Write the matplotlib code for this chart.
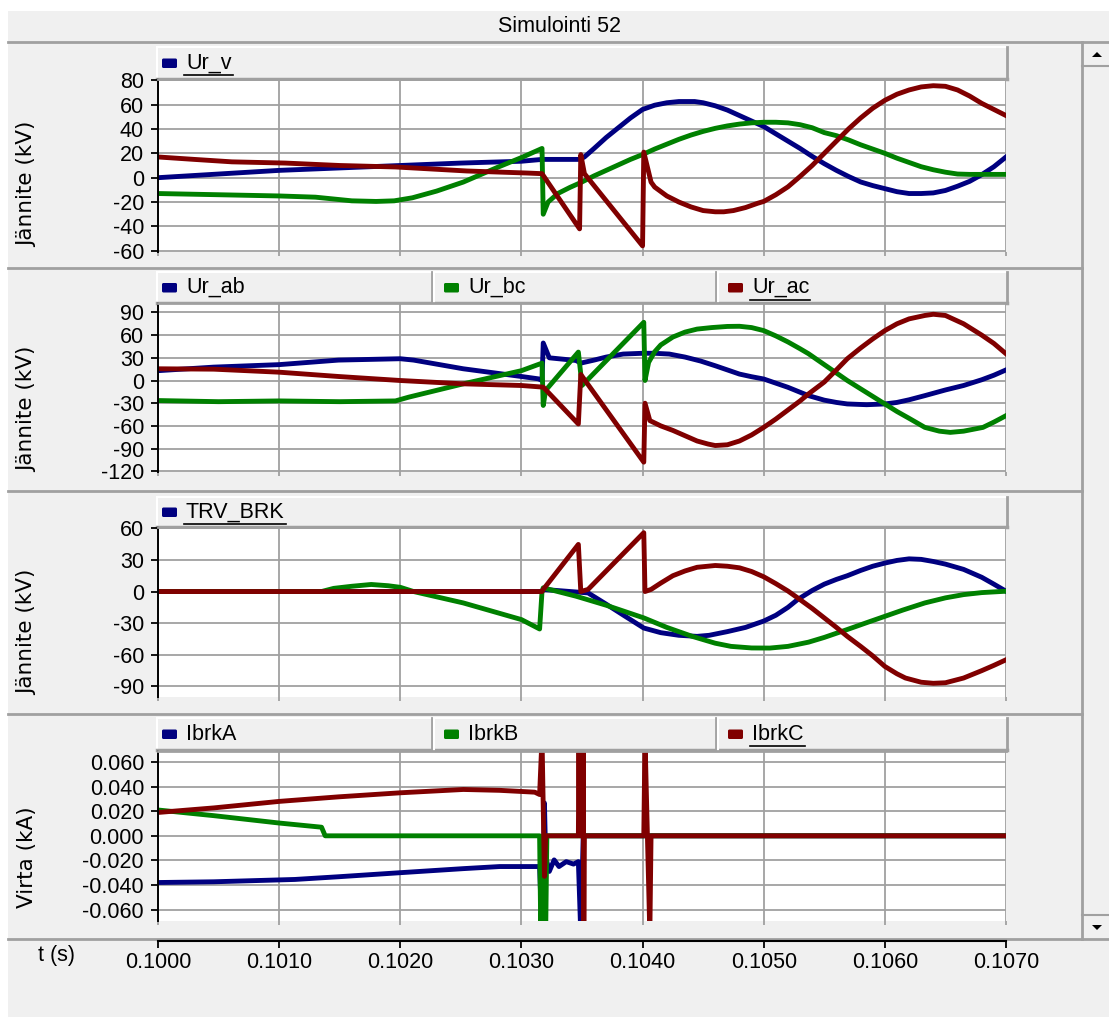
import matplotlib
matplotlib.use("Agg")
import matplotlib.pyplot as plt
from matplotlib.patches import Rectangle, FancyBboxPatch, Polygon
from matplotlib.ticker import FormatStrFormatter

plt.rcParams['font.family'] = ['Liberation Sans', 'DejaVu Sans']
plt.rcParams['axes.unicode_minus'] = False

BLUE = '#000080'
GREEN = '#008000'
RED = '#800000'
GRID = '#a0a0a0'
BG = '#f0f0f0'

# ---- data (time in s) ----
time_ticks = [0.1000, 0.1010, 0.1020, 0.1030, 0.1040, 0.1050, 0.1060, 0.1070]

# panel 1: Ur_v (kV)
v_a_t = [0.10000, 0.10050, 0.10100, 0.10150, 0.10200, 0.10250, 0.10300, 0.10317, 0.10348,
         0.10352, 0.10360, 0.10370, 0.10380, 0.10390, 0.10400, 0.10410, 0.10420, 0.10430,
         0.10443, 0.10450, 0.10460, 0.10470, 0.10480, 0.10490, 0.10500, 0.10510, 0.10520,
         0.10530, 0.10540, 0.10550, 0.10560, 0.10570, 0.10580, 0.10590, 0.10600, 0.10610,
         0.10620, 0.10630, 0.10640, 0.10650, 0.10660, 0.10670, 0.10680, 0.10690, 0.10700]
v_a = [0, 3, 6, 8, 10, 12, 13.5, 15, 15, 17, 24, 33, 41, 49, 56, 59.5, 61.5, 62.5, 62.5,
       61.5, 59, 55.5, 51, 46.5, 42, 36, 30, 24, 17.5, 11.5, 6, 1, -3.5, -6.5, -9, -11.5,
       -13, -13, -12.5, -10.5, -7, -3, 2.5, 9, 17]
v_b_t = [0.10000, 0.10050, 0.10100, 0.10130, 0.10150, 0.10160, 0.10180, 0.10195, 0.10210,
         0.10230, 0.10252, 0.10281, 0.10300, 0.10317, 0.10318, 0.10322, 0.10330, 0.10340,
         0.10349, 0.10360, 0.10370, 0.10380, 0.10390, 0.10400, 0.10410, 0.10420, 0.10430,
         0.10440, 0.10450, 0.10460, 0.10470, 0.10480, 0.10490, 0.10500, 0.10510, 0.10520,
         0.10530, 0.10540, 0.10550, 0.10560, 0.10570, 0.10580, 0.10590, 0.10600, 0.10610,
         0.10620, 0.10630, 0.10640, 0.10650, 0.10660, 0.10670, 0.10700]
v_b = [-13, -14, -15, -16, -18, -19, -19.5, -19, -16.5, -11, -3.6, 8.8, 16.5, 24, -30, -20,
       -13, -8, -4, 1.5, 6, 10.5, 15, 19, 23.5, 27.5, 31.5, 35, 38, 40.5, 42.5, 44, 45, 45.5,
       45.5, 45, 43.5, 41, 37, 34.5, 31, 27, 23.5, 20, 16, 12.5, 9, 6.5, 4.5, 3, 2.7, 2.7]
v_c_t = [0.10000, 0.10030, 0.10061, 0.10105, 0.10150, 0.10196, 0.10255, 0.10305, 0.10317,
         0.10348, 0.10349, 0.10352, 0.10400, 0.10401, 0.10407, 0.10410, 0.10420, 0.10430,
         0.10440, 0.10450, 0.10460, 0.10467, 0.10475, 0.10485, 0.10495, 0.10500, 0.10510,
         0.10520, 0.10530, 0.10540, 0.10550, 0.10560, 0.10570, 0.10580, 0.10590, 0.10600,
         0.10610, 0.10620, 0.10630, 0.10640, 0.10650, 0.10660, 0.10670, 0.10680, 0.10690,
         0.10700]
v_c = [17, 15, 13, 12, 10, 8.8, 5.5, 3.8, 3.3, -42, 19, 3.3, -56, 21, -3.6, -7.7, -15, -20,
       -24, -27, -28, -28, -27, -24.5, -21, -19.5, -14, -7.5, 1, 10, 20, 30, 40, 49, 57,
       63.5, 68.5, 72, 74.5, 75.5, 75, 72, 67, 61, 56, 51]

# panel 2: Ur_ab / Ur_bc / Ur_ac (kV)
ab_t = [0.10000, 0.10046, 0.10100, 0.10149, 0.10200, 0.10211, 0.10252, 0.10300, 0.10314,
        0.10317, 0.10318, 0.10323, 0.10345, 0.10349, 0.10360, 0.10370, 0.10384, 0.10400,
        0.10410, 0.10422, 0.10435, 0.10448, 0.10460, 0.10470, 0.10480, 0.10490, 0.10500,
        0.10510, 0.10520, 0.10530, 0.10537, 0.10550, 0.10560, 0.10569, 0.10585, 0.10600,
        0.10610, 0.10620, 0.10633, 0.10650, 0.10665, 0.10680, 0.10690, 0.10700]
ab = [13, 17.7, 21, 27, 28.8, 27, 15.5, 5.3, 2.2, 0, 49.6, 30, 26.5, 23, 27, 31, 35, 36,
      36, 35, 31, 25.7, 19.5, 14, 8.5, 5, 2, -3.5, -9, -15.5, -20, -26, -29, -31, -32, -31,
      -29, -25.5, -20, -12.5, -6.6, 1, 7, 14]
bc_t = [0.10000, 0.10050, 0.10100, 0.10150, 0.10196, 0.10207, 0.10252, 0.10300, 0.10317,
        0.10318, 0.10320, 0.10347, 0.10350, 0.10401, 0.10402, 0.10405, 0.10410, 0.10415,
        0.10425, 0.10435, 0.10445, 0.10457, 0.10470, 0.10480, 0.10490, 0.10500, 0.10510,
        0.10520, 0.10530, 0.10537, 0.10550, 0.10560, 0.10569, 0.10580, 0.10590, 0.10600,
        0.10610, 0.10620, 0.10633, 0.10645, 0.10654, 0.10665, 0.10681, 0.10690, 0.10700]
bc = [-26.5, -28, -27, -28, -27, -22, -4.4, 13, 23, -33, -13, 37.6, -6.6, 77, 0, 24, 38,
      47, 57.5, 64, 68, 70, 71.5, 71.7, 70, 66, 59, 51, 42, 35.4, 21, 10, 0, -11, -21, -31,
      -41, -50, -62, -67, -68.6, -67, -62, -55, -46.5]
ac_t = [0.10000, 0.10046, 0.10100, 0.10149, 0.10200, 0.10252, 0.10300, 0.10318, 0.10347,
        0.10349, 0.10401, 0.10402, 0.10406, 0.10415, 0.10425, 0.10435, 0.10445, 0.10454,
        0.10460, 0.10470, 0.10480, 0.10490, 0.10500, 0.10510, 0.10520, 0.10530, 0.10537,
        0.10550, 0.10560, 0.10569, 0.10580, 0.10590, 0.10600, 0.10610, 0.10620, 0.10633,
        0.10640, 0.10650, 0.10665, 0.10680, 0.10690, 0.10700]
ac = [15.5, 15, 11, 5.3, 0, -4.4, -6.6, -8.8, -57.5, 8, -108, -30, -53, -60, -66, -73, -80,
      -84, -86, -85, -80, -72, -62, -51, -39, -27, -17.7, -2, 14, 28.8, 43, 55, 66, 75,
      81.5, 86, 87.6, 86, 75, 60, 49, 35.4]

# panel 3: TRV_BRK (kV)
trv_a_t = [0.10000, 0.10317, 0.10318, 0.10355, 0.10370, 0.10385, 0.10401, 0.10415, 0.10430,
           0.10445, 0.10455, 0.10470, 0.10485, 0.10500, 0.10510, 0.10520, 0.10528, 0.10540,
           0.10550, 0.10560, 0.10569, 0.10580, 0.10590, 0.10600, 0.10610, 0.10620, 0.10630,
           0.10640, 0.10650, 0.10665, 0.10680, 0.10690, 0.10700]
trv_a = [0, 0, 2, -1.3, -12, -23, -34.6, -39, -41.5, -42.5, -41.5, -38, -34, -28, -22.5,
         -15, -7.6, 1, 7, 11.5, 15, 20, 24, 27, 29.5, 31, 30.5, 28.5, 26, 21, 13.5, 7, 0.3]
trv_b_t = [0.10000, 0.10135, 0.10145, 0.10160, 0.10176, 0.10190, 0.10200, 0.10211, 0.10252,
           0.10300, 0.10315, 0.10317, 0.10318, 0.10345, 0.10370, 0.10401, 0.10420, 0.10441,
           0.10460, 0.10473, 0.10490, 0.10505, 0.10520, 0.10537, 0.10550, 0.10569, 0.10585,
           0.10600, 0.10615, 0.10633, 0.10650, 0.10665, 0.10680, 0.10700]
trv_b = [0, 0, 3, 5, 6.7, 5.5, 4, 0, -10.8, -26.6, -35.5, 0, 3.5, -4.4, -13, -25, -34, -42.5,
         -49, -52, -53.5, -53.6, -52, -48, -43.5, -36, -29.5, -23.5, -17.5, -10.8, -6, -2.9,
         -1, 0.3]
trv_c_t = [0.10000, 0.10317, 0.10318, 0.10347, 0.10349, 0.10355, 0.10401, 0.10402, 0.10407,
           0.10415, 0.10425, 0.10435, 0.10445, 0.10460, 0.10470, 0.10480, 0.10490, 0.10500,
           0.10510, 0.10520, 0.10528, 0.10540, 0.10550, 0.10560, 0.10569, 0.10580, 0.10590,
           0.10600, 0.10610, 0.10617, 0.10630, 0.10640, 0.10650, 0.10665, 0.10680, 0.10690,
           0.10700]
trv_c = [0, 0, 2, 44.7, 0, 2, 55.8, 0, 2, 8, 15, 19.5, 23, 24.7, 24, 22.5, 19, 14, 7.5, 0.5,
         -6, -16, -25, -34, -42.5, -52, -61, -71, -78, -82, -86, -87, -86.5, -82, -75, -70,
         -64.7]

# panel 4: IbrkA / IbrkB / IbrkC (kA)
ia_t = [0.10000, 0.10046, 0.10113, 0.10149, 0.10200, 0.10252, 0.10282, 0.10315, 0.10317,
        0.10319, 0.10320, 0.10323, 0.10327, 0.10331, 0.10337, 0.10343, 0.10347, 0.10349,
        0.10351, 0.10700]
ia = [-0.038, -0.0374, -0.0355, -0.0333, -0.030, -0.0267, -0.025, -0.025, -0.08, 0.0267,
      -0.017, -0.029, -0.0196, -0.025, -0.021, -0.023, -0.021, -0.08, 0, 0]
ib_t = [0.10000, 0.10046, 0.10100, 0.10135, 0.10138, 0.10315, 0.10316, 0.10318, 0.10320,
        0.10321, 0.10700]
ib = [0.021, 0.0164, 0.0104, 0.007, 0, 0, -0.08, 0, -0.08, 0, 0]
ic_t = [0.10000, 0.10046, 0.10100, 0.10149, 0.10200, 0.10252, 0.10282, 0.10311, 0.10315,
        0.10317, 0.10319, 0.10320, 0.103470, 0.103475, 0.103480, 0.103505, 0.103510,
        0.103515, 0.103520, 0.10401, 0.10402, 0.10404, 0.10406, 0.10407, 0.10700]
ic = [0.019, 0.0227, 0.028, 0.0317, 0.035, 0.0377, 0.037, 0.0355, 0.0336, 0.08, -0.033, 0,
      0, 0.08, 0, 0, 0.08, -0.08, 0, 0, 0.08, 0, -0.08, 0, 0]

p1_ticks = [-60, -40, -20, 0, 20, 40, 60, 80]
p2_ticks = [-120, -90, -60, -30, 0, 30, 60, 90]
p3_ticks = [-90, -60, -30, 0, 30, 60]
p4_ticks = [-0.06, -0.04, -0.02, 0.0, 0.02, 0.04, 0.06]

W, H = 1109, 1017
fig = plt.figure(figsize=(W / 100, H / 100), dpi=100, facecolor=BG)

# background "window" drawn in pixel coordinates
bg = fig.add_axes([0, 0, 1, 1])
bg.set_xlim(0, W)
bg.set_ylim(H, 0)
bg.axis('off')

bg.add_patch(Rectangle((0, 0), W, 11, fc='white', ec='none'))
bg.add_patch(Rectangle((0, 0), 8, H, fc='white', ec='none'))
bg.text(560, 27, 'Simulointi 52', ha='center', va='center', fontsize=15.5)
bg.plot([8, W], [42, 42], color=GRID, lw=2)
for y in [268, 491, 714]:
    bg.plot([8, 1082], [y, y], color=GRID, lw=2)
bg.plot([8, W], [939, 939], color=GRID, lw=2)

# scrollbar
bg.plot([1082, 1082], [42, 939], color=GRID, lw=2)
bg.plot([1082, W], [66, 66], color=GRID, lw=1.5)
bg.plot([1082, W], [915, 915], color=GRID, lw=1.5)
bg.add_patch(Polygon([(1092, 57), (1102, 57), (1097, 52)], fc='black', ec='none'))
bg.add_patch(Polygon([(1092, 925), (1102, 925), (1097, 930)], fc='black', ec='none'))


def box(l, t, r, b):
    return [l / W, 1 - b / H, (r - l) / W, (b - t) / H]


underlined = []


def legend_bar(top, bottom, entries):
    bg.add_patch(Rectangle((157, top), 850, bottom - top, fc=BG, ec='none'))
    bg.plot([157, 1007], [top, top], color='white', lw=1.5)
    bg.plot([157, 157], [top, bottom], color='white', lw=1.5)
    bg.plot([1007, 1007], [top, bottom], color=GRID, lw=2)
    bg.plot([157, 1007], [bottom, bottom], color=GRID, lw=2.5)
    yc = (top + bottom) / 2
    for i, (x0, label, color, ul) in enumerate(entries):
        if i > 0:
            bg.plot([x0 - 7, x0 - 7], [top, bottom], color=GRID, lw=2)
            bg.plot([x0 - 5, x0 - 5], [top, bottom], color='white', lw=1.5)
        bg.add_patch(FancyBboxPatch((x0 + 6.5, yc - 3), 12, 6.5,
                                    boxstyle='round,pad=1.5', fc=color, ec='none'))
        t = bg.text(x0 + 29, yc, label, ha='left', va='center', fontsize=15.5)
        if ul:
            underlined.append((t, yc + 12))


legend_bar(47, 79, [(157, 'Ur_v', BLUE, True)])
legend_bar(272, 303, [(157, 'Ur_ab', BLUE, False), (439, 'Ur_bc', GREEN, False),
                      (723, 'Ur_ac', RED, True)])
legend_bar(497, 527, [(157, 'TRV_BRK', BLUE, True)])
legend_bar(718, 750, [(157, 'IbrkA', BLUE, False), (439, 'IbrkB', GREEN, False),
                      (723, 'IbrkC', RED, True)])

for y, txt in [(184, 'Jännite (kV)'), (409, 'Jännite (kV)'), (632, 'Jännite (kV)'),
               (857, 'Virta (kA)')]:
    bg.text(27, y, txt, rotation=90, ha='center', va='center', fontsize=15.5,
            family='DejaVu Sans')
bg.text(56, 955, 't (s)', ha='center', va='center', fontsize=15.5)


def panel(top, bottom, ylim, yticks, fmt, series):
    ax = fig.add_axes(box(158, top, 1006, bottom))
    ax.set_xlim(0.1, 0.107)
    ax.set_ylim(*ylim)
    ax.set_xticks(time_ticks)
    ax.set_yticks(yticks)
    ax.yaxis.set_major_formatter(FormatStrFormatter(fmt))
    ax.grid(True, color=GRID, lw=1.3)
    ax.set_axisbelow(True)
    for t, v, c in series:
        ax.plot(t, v, color=c, lw=3.5)
    for s in ['right', 'bottom']:
        ax.spines[s].set_visible(False)
    ax.spines['top'].set_color(GRID)
    ax.spines['top'].set_linewidth(2)
    ax.spines['left'].set_linewidth(1.4)
    ax.tick_params(axis='x', length=3, color=GRID, width=1.3, labelbottom=False)
    ax.tick_params(axis='y', length=5, width=1.3, pad=5, labelsize=15.5)
    return ax


panel(79, 252, (-61, 81), p1_ticks, '%d',
      [(v_a_t, v_a, BLUE), (v_b_t, v_b, GREEN), (v_c_t, v_c, RED)])
panel(303, 472, (-121, 102.5), p2_ticks, '%d',
      [(ab_t, ab, BLUE), (bc_t, bc, GREEN), (ac_t, ac, RED)])
panel(527, 697, (-100, 61.2), p3_ticks, '%d',
      [(trv_a_t, trv_a, BLUE), (trv_b_t, trv_b, GREEN), (trv_c_t, trv_c, RED)])
panel(751, 921, (-0.0693, 0.069), p4_ticks, '%.3f',
      [(ia_t, ia, BLUE), (ib_t, ib, GREEN), (ic_t, ic, RED)])

# time axis
tax = fig.add_axes(box(158, 930, 1006, 941))
tax.set_facecolor('none')
tax.set_xlim(0.1, 0.107)
tax.set_xticks(time_ticks)
tax.xaxis.set_major_formatter(FormatStrFormatter('%.4f'))
tax.set_yticks([])
for s in ['left', 'right', 'top']:
    tax.spines[s].set_visible(False)
tax.spines['bottom'].set_linewidth(1.5)
tax.tick_params(axis='x', length=5, width=1.3, pad=3, labelsize=15.5)

# underline the active legend entries
fig.canvas.draw()
r = fig.canvas.get_renderer()
for t, y in underlined:
    e = t.get_window_extent(r)
    bg.plot([e.x0 - 2, e.x1 + 1], [y, y], color='black', lw=1.2)

fig.savefig('out.png', dpi=100, facecolor=BG)
